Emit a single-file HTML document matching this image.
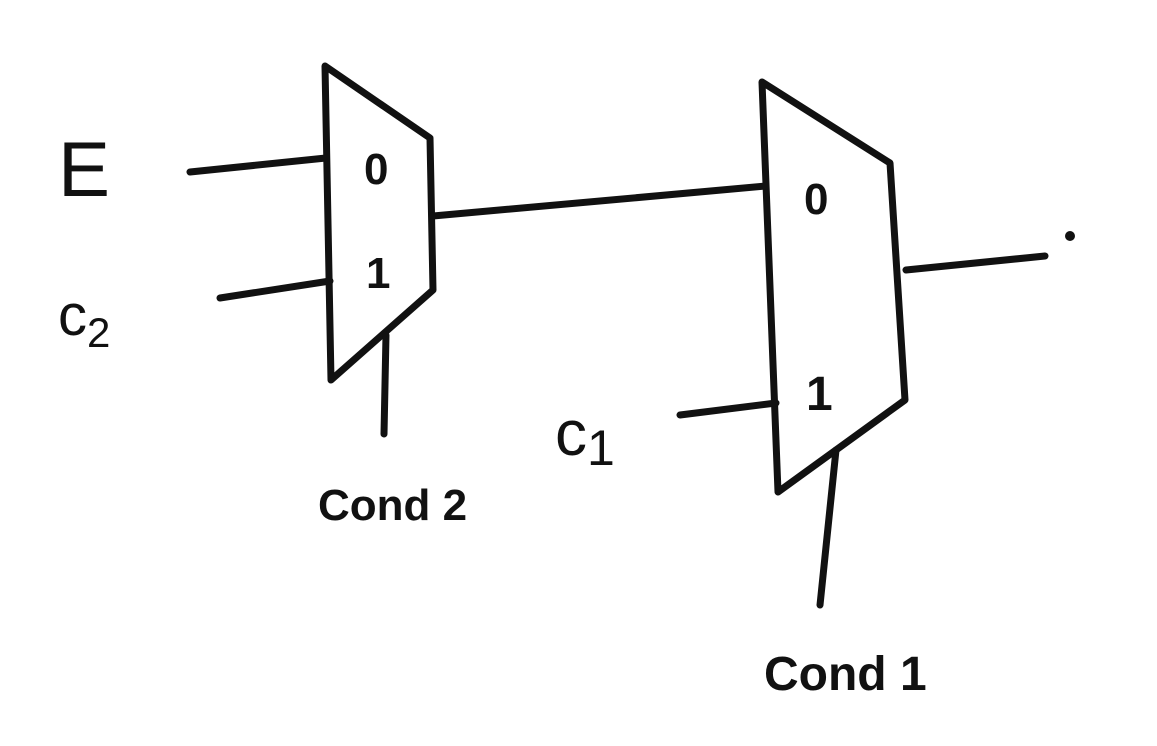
<!DOCTYPE html>
<html><head><meta charset="utf-8"><style>
html,body{margin:0;padding:0;background:#fff;}
svg{display:block}
text{font-family:"Liberation Sans",sans-serif;fill:#111;}
</style></head><body>
<svg width="1157" height="746" viewBox="0 0 1157 746">
<g stroke="#111" stroke-width="7" fill="none" stroke-linecap="round" stroke-linejoin="round">
  <polygon points="325,66 430,138 433,290 331,380"/>
  <polygon points="762,82 890,163 905,400 778,492"/>
  <line x1="190" y1="172" x2="326" y2="158"/>
  <line x1="220" y1="298" x2="330" y2="281"/>
  <line x1="433" y1="216" x2="766" y2="186"/>
  <line x1="386" y1="335" x2="384" y2="434"/>
  <line x1="680" y1="415" x2="776" y2="403"/>
  <line x1="906" y1="270" x2="1045" y2="256"/>
  <line x1="836" y1="450" x2="820" y2="605"/>
  <!-- letter strokes for E approximated via text -->
</g>
<circle cx="1070" cy="236" r="5" fill="#111"/>
<text x="58" y="196" font-size="78">E</text>
<text x="58" y="335" font-size="58">c<tspan font-size="42" dy="12">2</tspan></text>
<text x="364" y="184" font-size="44" font-weight="bold">0</text>
<text x="366" y="288" font-size="44" font-weight="bold">1</text>
<text x="318" y="520" font-size="44" font-weight="bold">Cond 2</text>
<text x="804" y="214" font-size="44" font-weight="bold">0</text>
<text x="806" y="410" font-size="48" font-weight="bold">1</text>
<text x="555" y="455" font-size="64">c<tspan font-size="50" dy="10">1</tspan></text>
<text x="764" y="690" font-size="48" font-weight="bold">Cond 1</text>
</svg>
</body></html>
